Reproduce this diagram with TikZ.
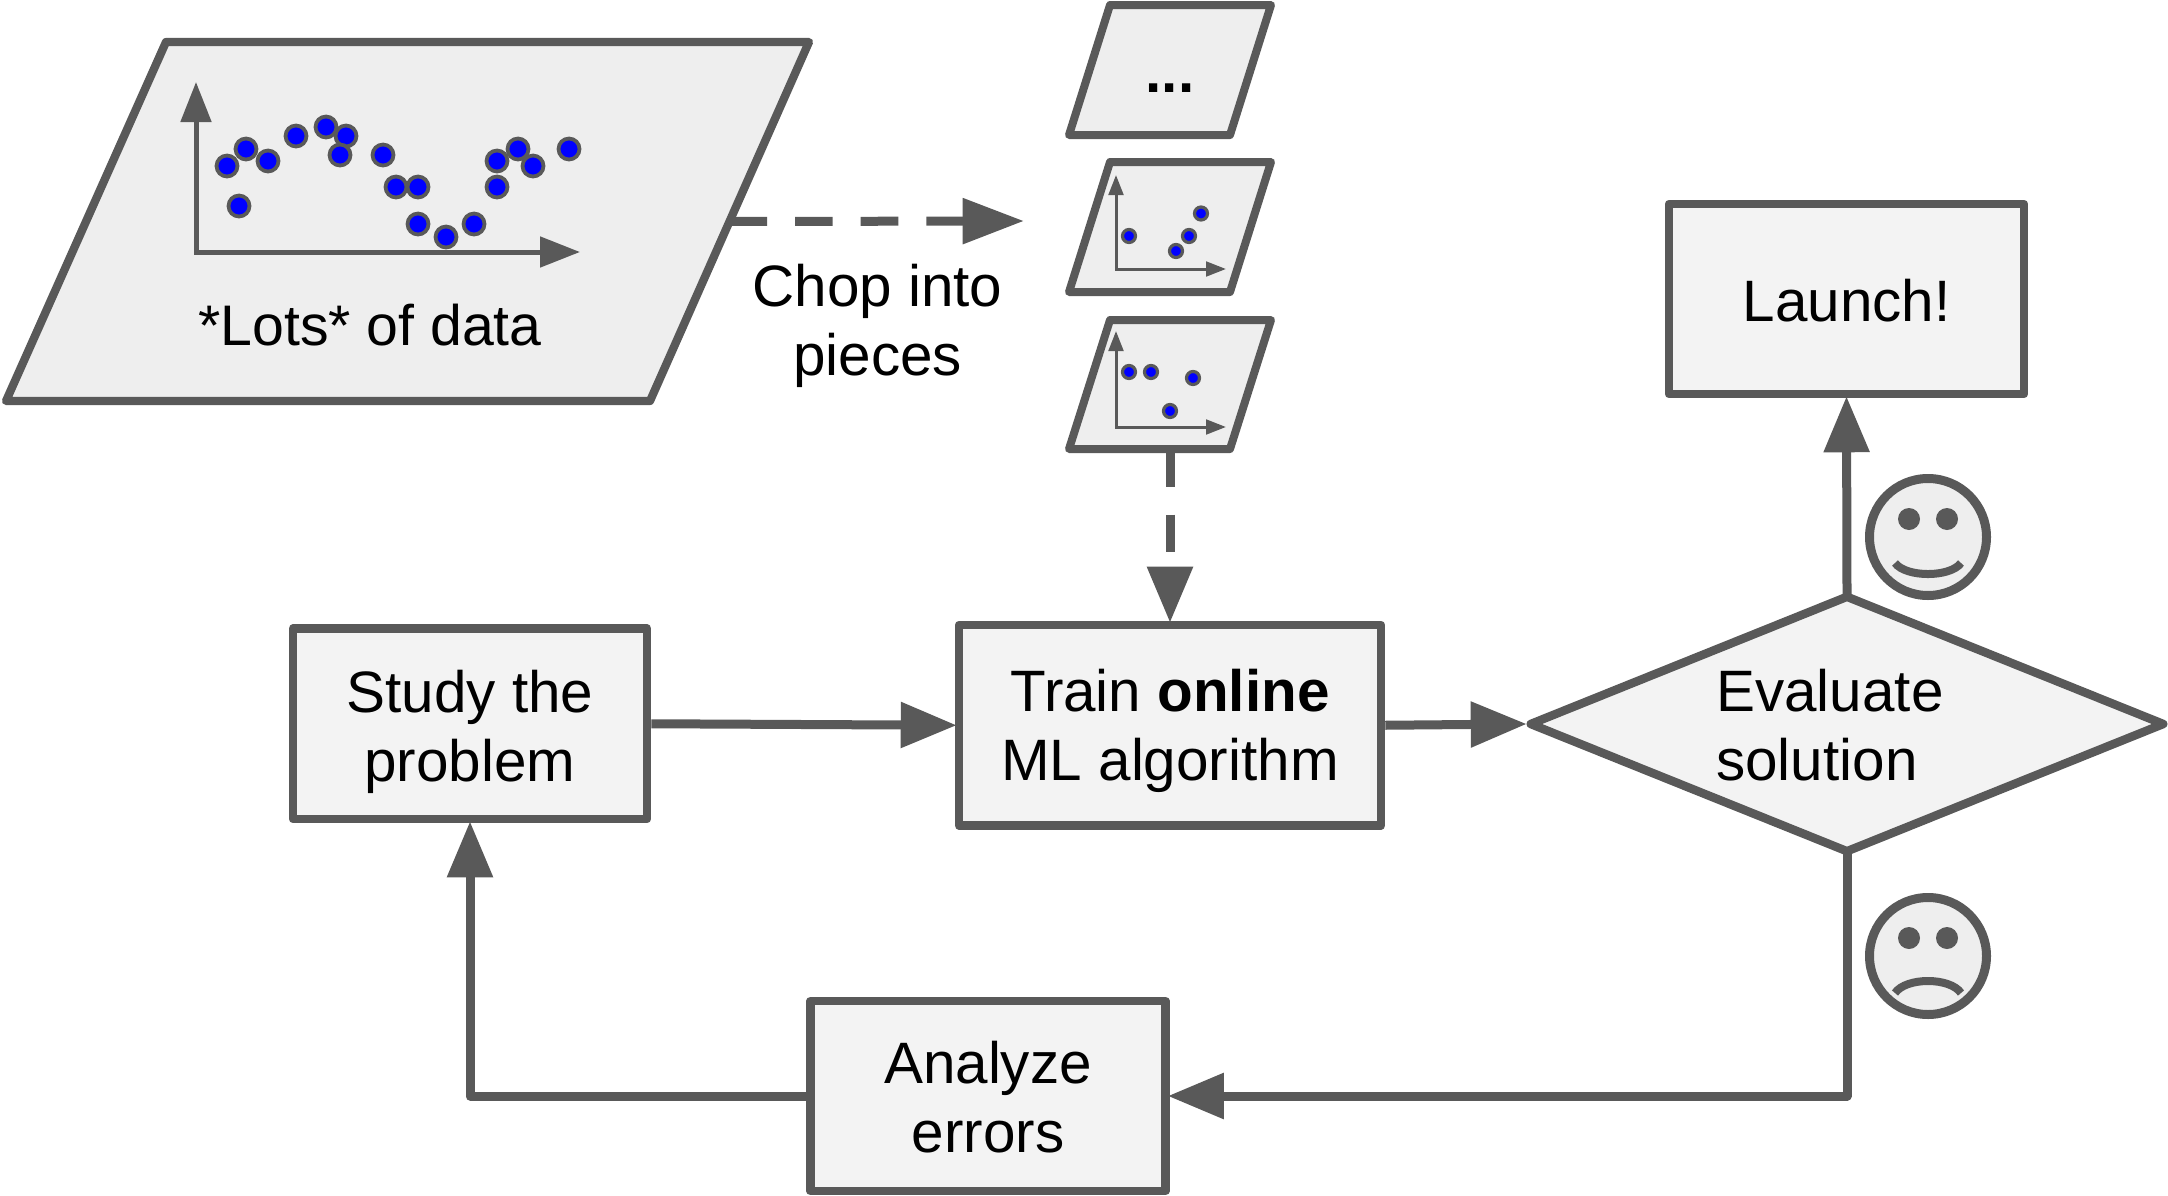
\documentclass[tikz,border=0pt]{standalone}
\usepackage{fontspec}
\setmainfont{Liberation Sans}
\usetikzlibrary{arrows.meta,shapes.geometric,calc}
\definecolor{ln}{HTML}{595959}
\definecolor{boxfill}{HTML}{F3F3F3}
\definecolor{slabfill}{HTML}{EEEEEE}
\definecolor{dotblue}{HTML}{0000FF}
\tikzset{
  txt/.style={inner sep=0pt,align=center,font=\fontsize{43.8pt}{51.75pt}\selectfont,text=black},
  box/.style={txt,draw=ln,fill=boxfill,line width=6.4pt,line join=round,text height=82.5pt,text depth=0pt},
  slab/.style={draw=ln,fill=slabfill,line width=6pt,line join=round},
  flow/.style={draw=ln,line width=6.75pt,line join=round,shorten >=-1.5pt,-{Triangle[length=42pt,width=33pt,fill=ln,color=ln]}},
  dashflow/.style={flow,dash pattern=on 28.2pt off 21pt},
  bigaxis/.style={draw=ln,line width=3.75pt,{Triangle[length=30pt,width=22.5pt,color=ln]}-{Triangle[length=30pt,width=22.5pt,color=ln]}},
  smallaxis/.style={draw=ln,line width=2.25pt,{Triangle[length=15pt,width=11pt,color=ln]}-{Triangle[length=15pt,width=11pt,color=ln]}},
  bigdot/.style={draw=ln,fill=dotblue,line width=2.8pt},
  smalldot/.style={draw=ln,fill=dotblue,line width=2.4pt},
  face/.style={draw=ln,fill=slabfill,line width=6.75pt},
  mouth/.style={draw=ln,line width=6pt},
}
\begin{document}
\begin{tikzpicture}[x=.75pt,y=-.75pt]
\useasboundingbox (0,0) rectangle (2168,1196);
% big data parallelogram
\coordinate (dtl) at (166,42);
\coordinate (dtr) at (809,42);
\coordinate (dbr) at (650,401);
\coordinate (dbl) at (6,401);
\draw[slab,line width=6.2pt] (dtl) -- (dtr) -- (dbr) -- (dbl) -- cycle;
\coordinate (dy) at (196,82);
\coordinate (dx) at (580,252);
\draw[bigaxis] (dy) |- (dx);
\foreach \p in {(227,166),(246,149),(268,161),(239,206),(296,136),(326,127),(346,136),(340,155),(383,155),(396,187),(418,187),(418,224),(446,237),(474,224),(497,161),(518,149),(533,166),(497,187),(569,149)}
  \draw[bigdot] \p circle[radius=10.5];
\node[txt,anchor=base,font=\fontsize{42.9pt}{51.75pt}\selectfont] (lots) at (370,345) {*Lots* of data};
% pieces
\draw[slab] (1110,5) -- (1271,5) -- (1230,135) -- (1069,135) -- cycle;
\node[txt,anchor=base,font=\fontsize{43.8pt}{51.75pt}\selectfont\bfseries] (dots) at (1170,92) {...};
\draw[slab] (1110,162) -- (1271,162) -- (1230,292) -- (1069,292) -- cycle;
\coordinate (ay) at (1116,175);
\coordinate (ax) at (1226,269);
\draw[smallaxis] (ay) |- (ax);
\foreach \p in {(1129,236),(1201,213.5),(1189,236),(1176,251)}
  \draw[smalldot] \p circle[radius=6.5];
\coordinate (ptl) at (1110,320);
\coordinate (pbr) at (1230,449);
\draw[slab] (ptl) -- (1271,320) -- (pbr) -- (1069,449) -- cycle;
\coordinate (by) at (1116,331);
\coordinate (bx) at (1226,427);
\draw[smallaxis] (by) |- (bx);
\foreach \p in {(1129,372),(1151,372),(1193,378),(1170,411)}
  \draw[smalldot] \p circle[radius=6.5];
% boxes
\node[box,minimum width=265.5pt,minimum height=142.9pt,text height=86pt] (study) at (470,723.75) {Study the\\problem};
\node[box,minimum width=316.5pt,minimum height=150.4pt] (train) at (1170,725.25) {Train \textbf{online}\\ML algorithm};
\node[box,minimum width=266.25pt,minimum height=142.5pt,text height=84pt] (analyze) at (988,1096) {Analyze\\errors};
\node[box,minimum width=266.25pt,minimum height=142.5pt,text height=33.5pt] (launch) at (1846.5,299) {Launch!};
\node[diamond,draw=ln,fill=boxfill,line width=6.4pt,line join=round,inner sep=0pt,aspect=2.47,minimum width=477pt,minimum height=193.5pt] (eval) at (1847,724) {};
\node[txt,align=left,anchor=west] (evaltext) at (1716,725.5) {Evaluate\\solution};
\node[txt] (chop) at (877.5,325.5) {Chop into\\pieces};
% connectors
\coordinate (dedge) at ($(dtr)!.5!(dbr)$);
\coordinate (chopend) at (1022,221);
\draw[dashflow,-{Triangle[length=46pt,width=33pt,fill=ln,color=ln]}] (dedge) -- (chopend);
\coordinate (pbot) at (1170,449);
\draw[dashflow] (pbot) -- (train.north);
\draw[flow] (study.east) -- (train.west);
\draw[flow] (train.east) -- (eval.west);
\draw[flow,shorten <=-6pt] (eval.north) -- (launch.south);
\coordinate (cornerb) at (eval.south |- analyze.east);
\draw[flow,shorten <=-6pt] (eval.south) -- (cornerb) -- (analyze.east);
\coordinate (cornerl) at (study.south |- analyze.west);
\draw[flow] (analyze.west) -- (cornerl) -- (study.south);
% faces
\draw[face] (1928,537) circle[radius=58.5];
\fill[ln] (1909,519) circle[radius=11] (1947,519) circle[radius=11];
\draw[mouth] (1895,563) .. controls (1906,577.7) and (1950,577.7) .. (1961,563);
\draw[face] (1928,956) circle[radius=58.5];
\fill[ln] (1909,938) circle[radius=11] (1947,938) circle[radius=11];
\draw[mouth] (1895,993) .. controls (1906,977) and (1950,977) .. (1961,993);
\end{tikzpicture}
\end{document}
